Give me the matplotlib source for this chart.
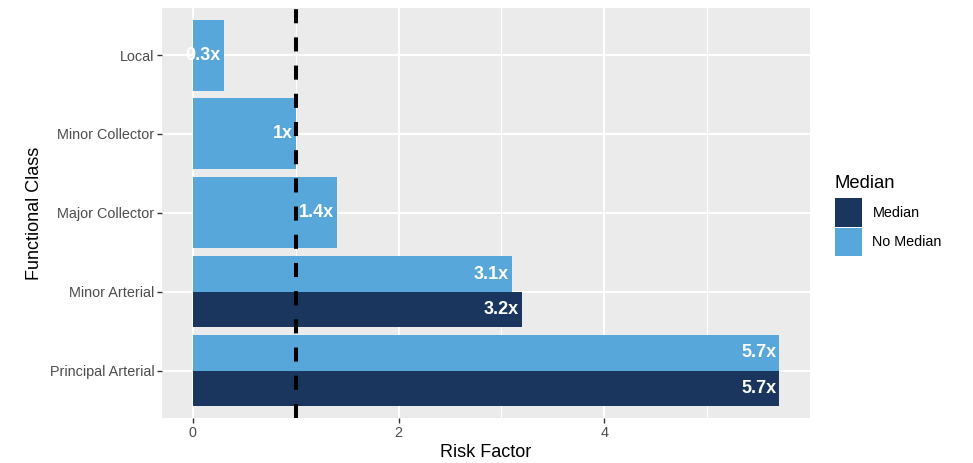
import numpy as np
import matplotlib.pyplot as plt
from matplotlib.patches import Patch

plt.rcParams['font.family'] = ['Liberation Sans', 'DejaVu Sans']

classes = ["Principal Arterial", "Minor Arterial", "Major Collector",
           "Minor Collector", "Local"]
median_vals = [5.7, 3.2, np.nan, np.nan, np.nan]
no_median_vals = [5.7, 3.1, 1.4, 1.0, 0.3]
groups = ["Median", "No Median"]
colors = {"Median": "#1a365f", "No Median": "#57a7db"}
ref_line = 1.0

fig = plt.figure(figsize=(9.73, 4.63), dpi=100)
ax = fig.add_axes([0.1665, 0.0972, 0.666, 0.886])
ax.set_facecolor("#ebebeb")

ypos = np.arange(len(classes))
for i, (m, n) in enumerate(zip(median_vals, no_median_vals)):
    both = not np.isnan(m)
    for val, grp, off in [(m, "Median", -0.225), (n, "No Median", 0.225)]:
        if np.isnan(val):
            continue
        yc = ypos[i] + (off if both else 0)
        h = 0.45 if both else 0.9
        ax.barh(yc, val, height=h, color=colors[grp], zorder=2)
        ax.annotate(f"{val:g}x", (val, yc), xytext=(-3, 0),
                    textcoords="offset pixels", ha="right", va="center",
                    color="white", fontweight="bold", fontsize=13, zorder=4)

ax.axvline(ref_line, color="black", lw=2.9, linestyle=(0, (3.5, 3.5)), zorder=3)

ax.set_xlim(-0.3, 6.0)
ax.set_ylim(-0.6, len(classes) - 0.4)
ax.set_xticks([0, 2, 4])
ax.set_xticks([1, 3, 5], minor=True)
ax.set_yticks(ypos)
ax.set_yticklabels(classes)
ax.grid(which="major", color="white", lw=1.5, zorder=0)
ax.grid(which="minor", axis="x", color="white", lw=0.75, zorder=0)
ax.set_axisbelow(True)
for s in ax.spines.values():
    s.set_visible(False)
ax.tick_params(which="major", length=3.5, width=1, color="#333333",
               labelcolor="#4d4d4d", labelsize=10.4, pad=2)
ax.tick_params(which="minor", length=0)

ax.set_xlabel("Risk Factor", fontsize=13, labelpad=3)
ax.set_ylabel("Functional Class", fontsize=13, labelpad=5)

handles = [Patch(facecolor=colors[g], edgecolor="none") for g in groups]
leg = fig.legend(handles, groups, title="Median", loc="upper left",
                 bbox_to_anchor=(0.858, 0.623), frameon=False,
                 fontsize=10.4, title_fontsize=13.3, handlelength=1.85,
                 handleheight=2.65, labelspacing=0.05, handletextpad=0.75,
                 borderaxespad=0, borderpad=0)
leg._legend_box.align = "left"
leg._legend_box.sep = 5

fig.savefig("out.png", dpi=100)
